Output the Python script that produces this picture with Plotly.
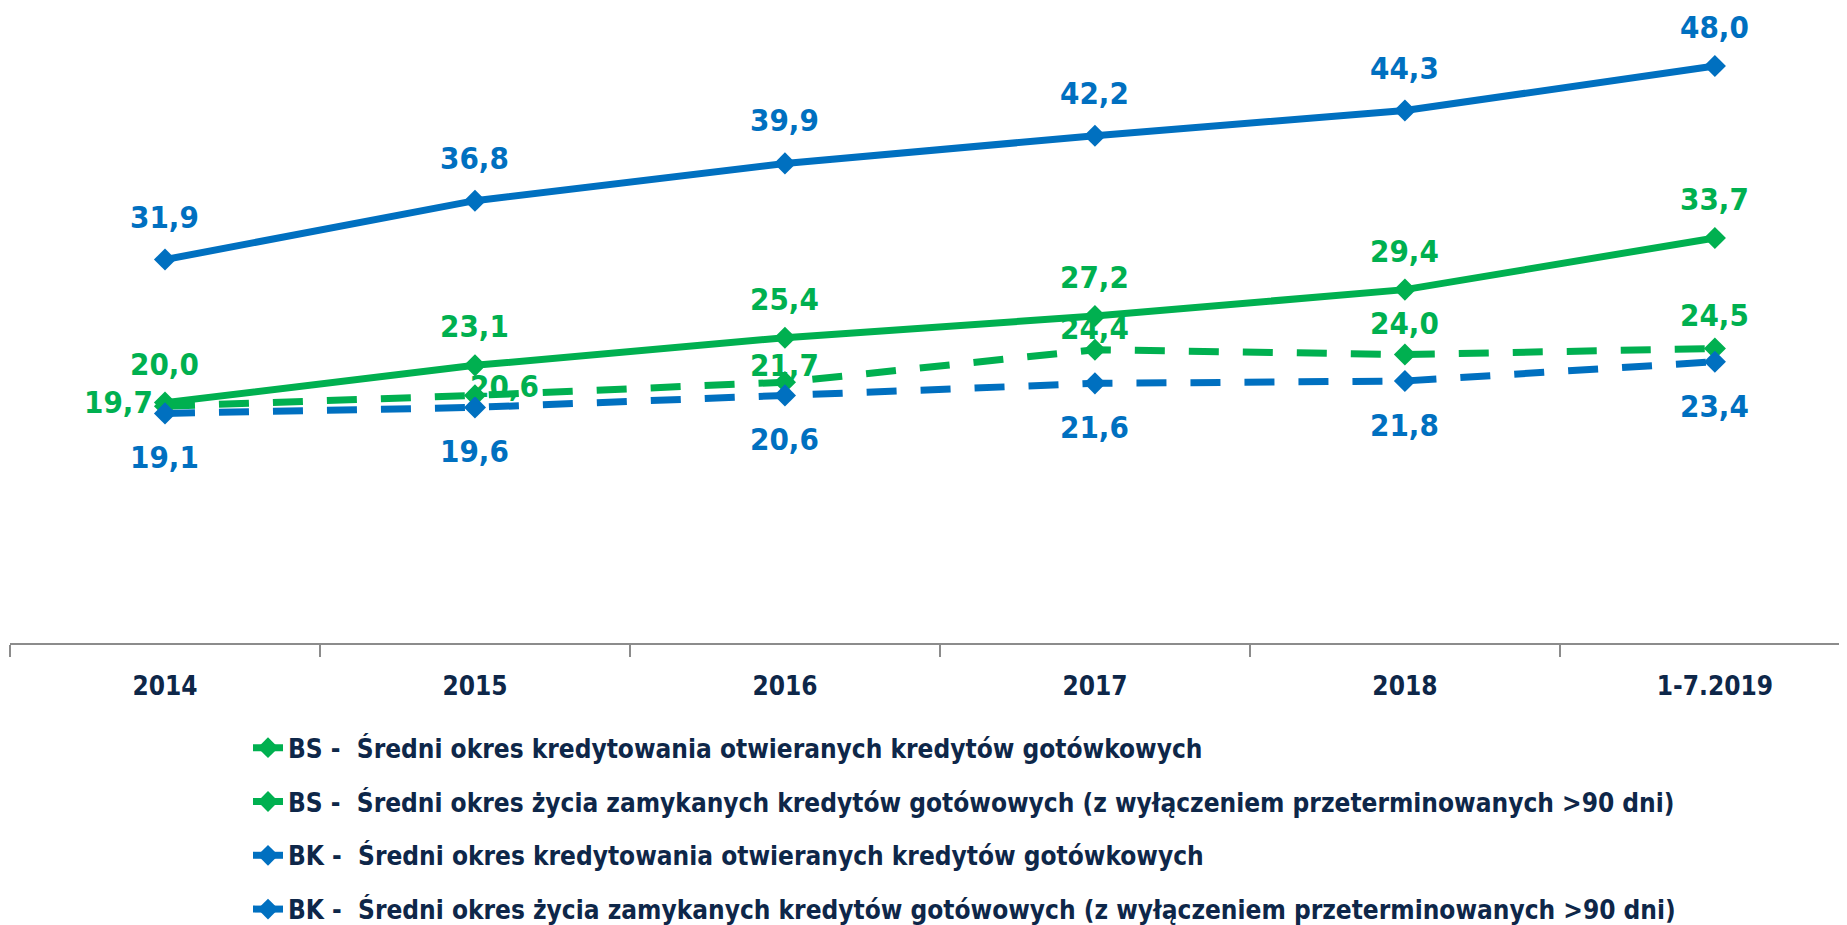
import plotly.graph_objects as go

categories = ["2014", "2015", "2016", "2017", "2018", "1-7.2019"]
bs_open = [20.0, 23.1, 25.4, 27.2, 29.4, 33.7]
bs_closed = [19.7, 20.6, 21.7, 24.4, 24.0, 24.5]
bk_open = [31.9, 36.8, 39.9, 42.2, 44.3, 48.0]
bk_closed = [19.1, 19.6, 20.6, 21.6, 21.8, 23.4]

names = [
    "BS -  Średni okres kredytowania otwieranych kredytów gotówkowych",
    "BS -  Średni okres życia zamykanych kredytów gotówowych (z wyłączeniem przeterminowanych >90 dni)",
    "BK -  Średni okres kredytowania otwieranych kredytów gotówkowych",
    "BK -  Średni okres życia zamykanych kredytów gotówowych (z wyłączeniem przeterminowanych >90 dni)",
]

GREEN = "#00B050"
BLUE = "#0070C0"
NAVY = "#0E2749"
FONT = "Liberation Sans Narrow, DejaVu Sans Condensed, Arial Narrow, sans-serif"

series = [
    (bs_open, GREEN, "solid", names[0]),
    (bs_closed, GREEN, "30px,24px", names[1]),
    (bk_open, BLUE, "solid", names[2]),
    (bk_closed, BLUE, "30px,24px", names[3]),
]

fig = go.Figure()
for i, (vals, col, dash, nm) in enumerate(series):
    fig.add_trace(go.Scatter(
        x=categories, y=vals, mode="lines+markers", name=nm,
        line=dict(color=col, width=7, dash=dash),
        marker=dict(symbol="diamond", size=17, color=col),
        legendgroup=f"g{i}",
    ))

# label offsets (pixels): (dx, dy)
offsets = {
    0: [(0, 39)] * 6,
    1: [(-46, 4), (30, 9), (0, 17), (0, 22), (0, 32), (0, 34)],
    2: [(0, 43)] * 5 + [(0, 39)],
    3: [(0, -44)] * 6,
}
annotations = []
for i, (vals, col, dash, nm) in enumerate(series):
    for j, v in enumerate(vals):
        dx, dy = offsets[i][j]
        annotations.append(dict(
            x=j, y=v, xref="x", yref="y",
            text=f"{v:.1f}".replace(".", ","), showarrow=False,
            xshift=dx, yshift=dy, xanchor="center", yanchor="middle",
            font=dict(family=FONT, size=31, color=col, weight="bold"),
        ))

fig.update_layout(
    width=1847, height=925,
    margin=dict(l=2, r=0, t=0, b=290, autoexpand=False),
    paper_bgcolor="white", plot_bgcolor="white",
    annotations=annotations,
    showlegend=True,
    legend=dict(
        x=0.129, xanchor="left", y=-0.128, yanchor="top",
        font=dict(family=FONT, size=26, color=NAVY, weight="bold"),
        tracegroupgap=17, bgcolor="rgba(0,0,0,0)",
    ),
    xaxis=dict(
        type="category", range=[-0.5, 5.452],
        showgrid=False, zeroline=False,
        showline=True, linecolor="#8C8C8C", linewidth=2,
        ticks="outside", tickson="boundaries", ticklen=12, tickcolor="#8C8C8C", tickwidth=1.5,
        tickfont=dict(family=FONT, size=26, color=NAVY, weight="bold"),
        ticklabelstandoff=19,
    ),
    yaxis=dict(range=[0, 52.83], visible=False),
)

fig.write_html("out.html")
